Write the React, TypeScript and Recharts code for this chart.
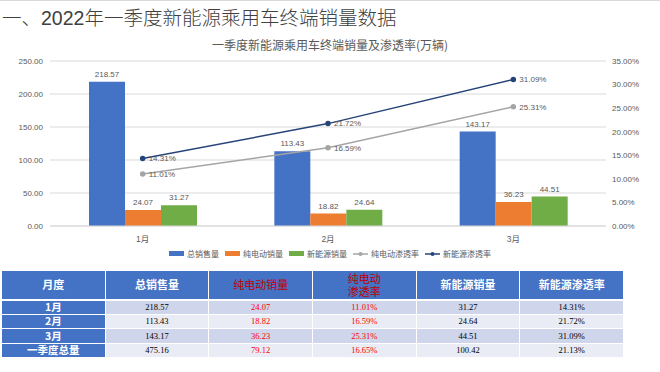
import React from "react";
import {
  ComposedChart,
  Bar,
  Line,
  XAxis,
  YAxis,
  CartesianGrid,
  Legend,
  LabelList,
} from "recharts";

const months = ["1月", "2月", "3月"];
const totalSales = [218.57, 113.43, 143.17];
const bevSales = [24.07, 18.82, 36.23];
const nevSales = [31.27, 24.64, 44.51];
const bevRate = [11.01, 16.59, 25.31];
const nevRate = [14.31, 21.72, 31.09];
const leftTicks = [0, 50, 100, 150, 200, 250];
const rightTicks = [0, 5, 10, 15, 20, 25, 30, 35];

const tableHeaders = ["月度", "总销售量", "纯电动销量", "纯电动\n渗透率", "新能源销量", "新能源渗透率"];
const tableRowLabels = ["1月", "2月", "3月", "一季度总量"];
const quarterTotals = [475.16, 79.12, 16.65, 100.42, 21.13];

const BLUE = "#4472C4";
const ORANGE = "#ED7D31";
const GREEN = "#70AD47";
const GRAY = "#A5A5A5";
const NAVY = "#264478";
const TEXT = "#595959";
const NUM_FONT = "'Liberation Sans', 'Noto Sans CJK SC', sans-serif";
const CJK_FONT = "'Noto Sans CJK SC', sans-serif";

const data = months.map((m, i) => ({
  month: m,
  total: totalSales[i],
  bev: bevSales[i],
  nev: nevSales[i],
  bevRate: bevRate[i],
  nevRate: nevRate[i],
}));

const legendItems = [
  { name: "总销售量", color: BLUE, kind: "bar" },
  { name: "纯电动销量", color: ORANGE, kind: "bar" },
  { name: "新能源销量", color: GREEN, kind: "bar" },
  { name: "纯电动渗透率", color: GRAY, kind: "line" },
  { name: "新能源渗透率", color: NAVY, kind: "line" },
];

const ChartLegend = () => (
  <div
    style={{
      display: "flex",
      justifyContent: "center",
      alignItems: "center",
      gap: 6,
      fontFamily: CJK_FONT,
      fontSize: 8,
      color: TEXT,
    }}
  >
    {legendItems.map((it) => (
      <div key={it.name} style={{ display: "flex", alignItems: "center", gap: 3 }}>
        {it.kind === "bar" ? (
          <svg width={15} height={6}>
            <rect x={0} y={0} width={15} height={5} fill={it.color} />
          </svg>
        ) : (
          <svg width={15} height={6}>
            <line x1={0} y1={3} x2={15} y2={3} stroke={it.color} strokeWidth={1.5} />
            <circle cx={7.5} cy={3} r={2} fill={it.color} />
          </svg>
        )}
        <span>{it.name}</span>
      </div>
    ))}
  </div>
);

const fmt2 = (v: any) => Number(v).toFixed(2);
const fmtPct = (v: any) => Number(v).toFixed(2) + "%";

const cellBase: React.CSSProperties = {
  border: "1px solid #fff",
  textAlign: "center",
  padding: 0,
};

const SalesTable = () => {
  const rows = tableRowLabels.map((label, i) =>
    i < 3
      ? [totalSales[i], bevSales[i], bevRate[i], nevSales[i], nevRate[i]]
      : quarterTotals
  );
  return (
    <table
      style={{
        position: "absolute",
        left: 1,
        top: 269,
        width: 623,
        borderCollapse: "collapse",
        tableLayout: "fixed",
      }}
    >
      <thead>
        <tr style={{ height: 29 }}>
          {tableHeaders.map((h, j) => {
            const red = j === 2 || j === 3;
            return (
              <th
                key={h}
                style={{
                  ...cellBase,
                  borderBottom: "2px solid #fff",
                  background: BLUE,
                  color: red ? "#C00000" : "#fff",
                  fontFamily: CJK_FONT,
                  fontSize: 11,
                  fontWeight: red ? 400 : 700,
                  lineHeight: "13px",
                  whiteSpace: "pre-line",
                }}
              >
                {h}
              </th>
            );
          })}
        </tr>
      </thead>
      <tbody>
        {rows.map((vals, i) => (
          <tr key={tableRowLabels[i]} style={{ height: 14.5 }}>
            <td
              style={{
                ...cellBase,
                background: BLUE,
                color: "#fff",
                fontFamily: CJK_FONT,
                fontSize: 10.5,
                fontWeight: 700,
                lineHeight: "12px",
              }}
            >
              {tableRowLabels[i]}
            </td>
            {vals.map((v, j) => (
              <td
                key={j}
                style={{
                  ...cellBase,
                  background: i % 2 === 0 ? "#CFD5EA" : "#E9EBF5",
                  color: j === 1 || j === 2 ? "#FF0000" : "#000",
                  fontFamily: "'Liberation Serif', serif",
                  fontSize: 8.5,
                  lineHeight: "12px",
                }}
              >
                {j === 2 || j === 4 ? fmtPct(v) : fmt2(v)}
              </td>
            ))}
          </tr>
        ))}
      </tbody>
    </table>
  );
};

export default function App() {
  return (
    <div
      style={{
        position: "absolute",
        left: 0,
        top: 0,
        width: 660,
        height: 372,
        background: "#fff",
        borderTop: "1px solid #d9d9d9",
        boxSizing: "border-box",
        overflow: "hidden",
      }}
    >
      <div
        style={{
          position: "absolute",
          left: 2,
          top: 4,
          fontFamily: NUM_FONT,
          fontSize: 19.5,
          fontWeight: 300,
          color: "#404040",
          lineHeight: "26px",
          whiteSpace: "nowrap",
        }}
      >
        一、2022年一季度新能源乘用车终端销量数据
      </div>
      <div
        style={{
          position: "absolute",
          left: 0,
          top: 36,
          width: 660,
          textAlign: "center",
          fontFamily: CJK_FONT,
          fontSize: 12,
          color: TEXT,
          lineHeight: "16px",
        }}
      >
        一季度新能源乘用车终端销量及渗透率(万辆)
      </div>
      <div style={{ position: "absolute", left: 0, top: 0 }}>
        <ComposedChart
          width={660}
          height={270}
          data={data}
          margin={{ top: 60, right: 0, bottom: 15, left: 0 }}
          barGap={0}
        >
          <CartesianGrid vertical={false} stroke="#D9D9D9" yAxisId="left" />
          <XAxis
            dataKey="month"
            height={30}
            axisLine={{ stroke: "#D9D9D9" }}
            tickLine={false}
            tick={{ fill: TEXT, fontSize: 8.5, fontFamily: NUM_FONT }}
            tickMargin={4}
          />
          <YAxis
            yAxisId="left"
            width={50}
            domain={[0, 250]}
            ticks={leftTicks}
            axisLine={false}
            tickLine={false}
            tickSize={0}
            tickMargin={7}
            tickFormatter={fmt2}
            tick={{ fill: TEXT, fontSize: 8, fontFamily: NUM_FONT }}
          />
          <YAxis
            yAxisId="right"
            orientation="right"
            width={54}
            domain={[0, 35]}
            ticks={rightTicks}
            axisLine={false}
            tickLine={false}
            tickSize={0}
            tickMargin={6}
            tickFormatter={fmtPct}
            tick={{ fill: TEXT, fontSize: 8, fontFamily: NUM_FONT }}
          />
          <Legend
            layout="horizontal"
            verticalAlign="middle"
            align="center"
            wrapperStyle={{ top: 247, left: 0, width: 660 }}
            content={() => <ChartLegend />}
          />
          <Bar yAxisId="left" dataKey="total" name="总销售量" fill={BLUE} barSize={36} isAnimationActive={false}>
            <LabelList dataKey="total" position="top" formatter={fmt2} fill={TEXT} fontSize={8} fontFamily={NUM_FONT} />
          </Bar>
          <Bar yAxisId="left" dataKey="bev" name="纯电动销量" fill={ORANGE} barSize={36} isAnimationActive={false}>
            <LabelList dataKey="bev" position="top" formatter={fmt2} fill={TEXT} fontSize={8} fontFamily={NUM_FONT} />
          </Bar>
          <Bar yAxisId="left" dataKey="nev" name="新能源销量" fill={GREEN} barSize={36} isAnimationActive={false}>
            <LabelList dataKey="nev" position="top" formatter={fmt2} fill={TEXT} fontSize={8} fontFamily={NUM_FONT} />
          </Bar>
          <Line
            yAxisId="right"
            dataKey="bevRate"
            name="纯电动渗透率"
            stroke={GRAY}
            strokeWidth={1.5}
            dot={{ r: 2, fill: GRAY, stroke: GRAY }}
            isAnimationActive={false}
          >
            <LabelList dataKey="bevRate" position="right" offset={6} formatter={fmtPct} fill={TEXT} fontSize={8} fontFamily={NUM_FONT} />
          </Line>
          <Line
            yAxisId="right"
            dataKey="nevRate"
            name="新能源渗透率"
            stroke={NAVY}
            strokeWidth={1.5}
            dot={{ r: 2, fill: NAVY, stroke: NAVY }}
            isAnimationActive={false}
          >
            <LabelList dataKey="nevRate" position="right" offset={6} formatter={fmtPct} fill={TEXT} fontSize={8} fontFamily={NUM_FONT} />
          </Line>
        </ComposedChart>
      </div>
      <SalesTable />
    </div>
  );
}
